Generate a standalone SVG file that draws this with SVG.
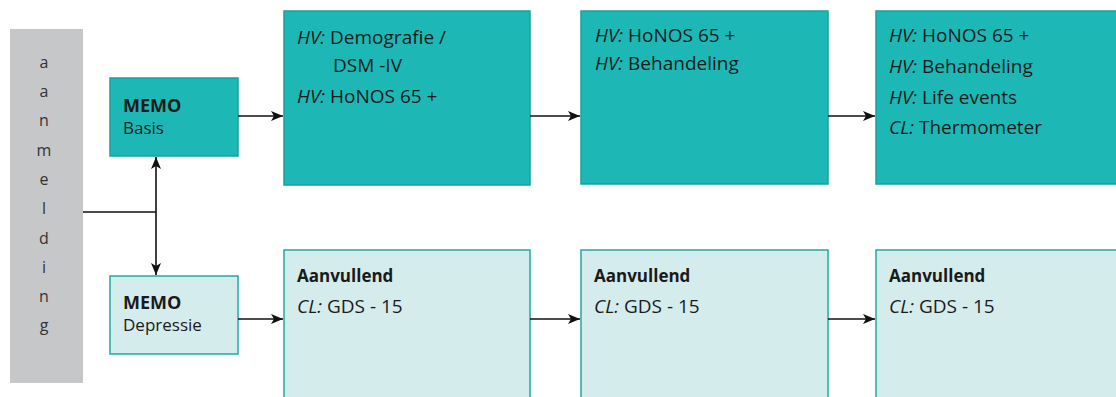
<svg xmlns="http://www.w3.org/2000/svg" width="1116" height="397" viewBox="0 0 1116 397">
<defs>
<style>
.t{font-family:"Open Sans","Liberation Sans",sans-serif;font-size:17px;fill:#1a1a1a}
.L{font-size:19px}
.i{font-style:italic}
.b{font-weight:bold}
.m{font-size:18px}
.dark{fill:#1db8b5;stroke:#16a3a0;stroke-width:1.5}
.light{fill:#d5eced;stroke:#1eaaa7;stroke-width:1.5}
.c{stroke:#111;stroke-width:1.6;fill:none}
.g{font-family:"Open Sans","Liberation Sans",sans-serif;font-size:16px;fill:#333;text-anchor:middle}
</style>
<marker id="ah" viewBox="0 0 12 10" refX="12" refY="5" markerWidth="12" markerHeight="10" markerUnits="userSpaceOnUse" orient="auto-start-reverse">
<path d="M0,0 L12,5 L0,10 L3,5 Z" fill="#111"/>
</marker>
</defs>
<rect width="1116" height="397" fill="#fff"/>
<g id="aanmelding">
<rect x="10" y="29" width="73" height="354" fill="#c6c7c9"/>
<text class="g" x="44" y="68">a</text>
<text class="g" x="44" y="97">a</text>
<text class="g" x="44" y="126">n</text>
<text class="g" x="44" y="156">m</text>
<text class="g" x="44" y="185">e</text>
<text class="g" x="44" y="214">l</text>
<text class="g" x="44" y="244">d</text>
<text class="g" x="44" y="273">i</text>
<text class="g" x="44" y="302">n</text>
<text class="g" x="44" y="331">g</text>
</g>
<g id="memo-basis">
<rect class="dark" x="110" y="78" width="128" height="78"/>
<text class="t b m" x="123" y="112">MEMO</text>
<text class="t" x="123" y="134">Basis</text>
</g>
<g id="memo-depressie">
<rect class="light" x="110" y="276" width="128" height="78"/>
<text class="t b m" x="123" y="309">MEMO</text>
<text class="t" x="123" y="331">Depressie</text>
</g>
<g id="top1">
<rect class="dark" x="284" y="11" width="246" height="174"/>
<text class="t L" x="297" y="44"><tspan class="i">HV:</tspan> Demografie /</text>
<text class="t L" x="333" y="72">DSM -IV</text>
<text class="t L" x="297" y="103"><tspan class="i">HV:</tspan> HoNOS 65 +</text>
</g>
<g id="top2">
<rect class="dark" x="581" y="11" width="247" height="173"/>
<text class="t L" x="595" y="42"><tspan class="i">HV:</tspan> HoNOS 65 +</text>
<text class="t L" x="595" y="70"><tspan class="i">HV:</tspan> Behandeling</text>
</g>
<g id="top3">
<rect class="dark" x="876" y="11" width="250" height="173"/>
<text class="t L" x="889" y="42"><tspan class="i">HV:</tspan> HoNOS 65 +</text>
<text class="t L" x="889" y="73"><tspan class="i">HV:</tspan> Behandeling</text>
<text class="t L" x="889" y="104"><tspan class="i">HV:</tspan> Life events</text>
<text class="t L" x="889" y="134"><tspan class="i">CL:</tspan> Thermometer</text>
</g>
<g id="bot1">
<rect class="light" x="284" y="250" width="246" height="160"/>
<text class="t b" x="297" y="282">Aanvullend</text>
<text class="t L" x="297" y="313"><tspan class="i">CL:</tspan> GDS - 15</text>
</g>
<g id="bot2">
<rect class="light" x="581" y="250" width="247" height="160"/>
<text class="t b" x="594" y="282">Aanvullend</text>
<text class="t L" x="594" y="313"><tspan class="i">CL:</tspan> GDS - 15</text>
</g>
<g id="bot3">
<rect class="light" x="876" y="250" width="250" height="160"/>
<text class="t b" x="889" y="282">Aanvullend</text>
<text class="t L" x="889" y="313"><tspan class="i">CL:</tspan> GDS - 15</text>
</g>
<g id="connectors">
<path class="c" d="M83,212 H156"/>
<path class="c" d="M156,157 V275" marker-start="url(#ah)" marker-end="url(#ah)"/>
<path class="c" d="M238,116 H283" marker-end="url(#ah)"/>
<path class="c" d="M530,116 H580" marker-end="url(#ah)"/>
<path class="c" d="M828,116 H875" marker-end="url(#ah)"/>
<path class="c" d="M238,319 H283" marker-end="url(#ah)"/>
<path class="c" d="M530,319 H580" marker-end="url(#ah)"/>
<path class="c" d="M828,319 H875" marker-end="url(#ah)"/>
</g>
</svg>
